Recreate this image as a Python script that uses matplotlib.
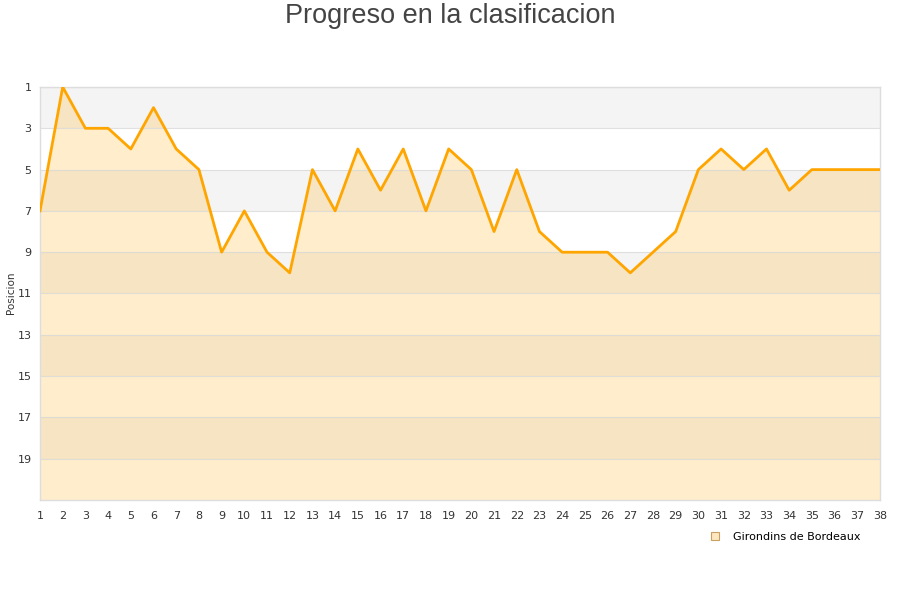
import matplotlib.pyplot as plt
from matplotlib.lines import Line2D
import numpy as np

# jornadas y posiciones
jornadas = list(range(1, 39))
posiciones = [7, 1, 3, 3, 4, 2, 4, 5, 9, 7, 9, 10, 5, 7, 4, 6, 4, 7, 4, 5,
              8, 5, 8, 9, 9, 9, 10, 9, 8, 5, 4, 5, 4, 6, 5, 5, 5, 5]
ticks_y = list(range(1, 20, 2))
equipo = 'Girondins de Bordeaux'

fig = plt.figure(figsize=(9, 6), dpi=100)
ax = fig.add_axes([40 / 900, 100 / 600, 840 / 900, 413 / 600])

# bandas alternas de fondo
for y0 in range(1, 21, 4):
    ax.axhspan(y0, y0 + 2, color='#f4f4f4', zorder=0, lw=0)

ax.fill_between(jornadas, posiciones, 21, color='#ffa500', alpha=0.2, lw=0, zorder=1)
for t in ticks_y:
    ax.axhline(t, color='#d9d9d9', lw=0.8, zorder=2, alpha=0.8)
ax.plot(jornadas, posiciones, color='#ffa500', lw=2, zorder=3)

ax.set_xlim(1, 38)
ax.set_ylim(21, 1)
ax.set_yticks(ticks_y)
ax.set_xticks(jornadas)
ax.tick_params(axis='both', length=0, labelsize=8, colors='#333333')
ax.tick_params(axis='x', pad=8)
ax.tick_params(axis='y', pad=6)
for s in ax.spines.values():
    s.set_color('#dddddd')
    s.set_linewidth(1)

fig.text(11 / 900, 1 - 293 / 600, 'Posicion', rotation=90, ha='center', va='center',
         fontsize=7.5, color='#333333')
fig.text(0.5, 0.995, 'Progreso en la clasificacion', ha='center', va='top',
         fontsize=19.5, color='#444444', family='Liberation Sans')

handle = Line2D([], [], marker='s', linestyle='none', markersize=6,
                markerfacecolor='#fde7c0', markeredgecolor='#c8a060', markeredgewidth=0.8)
fig.legend([handle], [equipo], loc='center right', bbox_to_anchor=(865 / 900, 1 - 537 / 600),
           frameon=False, fontsize=8, handletextpad=0.6, borderaxespad=0)

fig.savefig('out.png', dpi=100)
